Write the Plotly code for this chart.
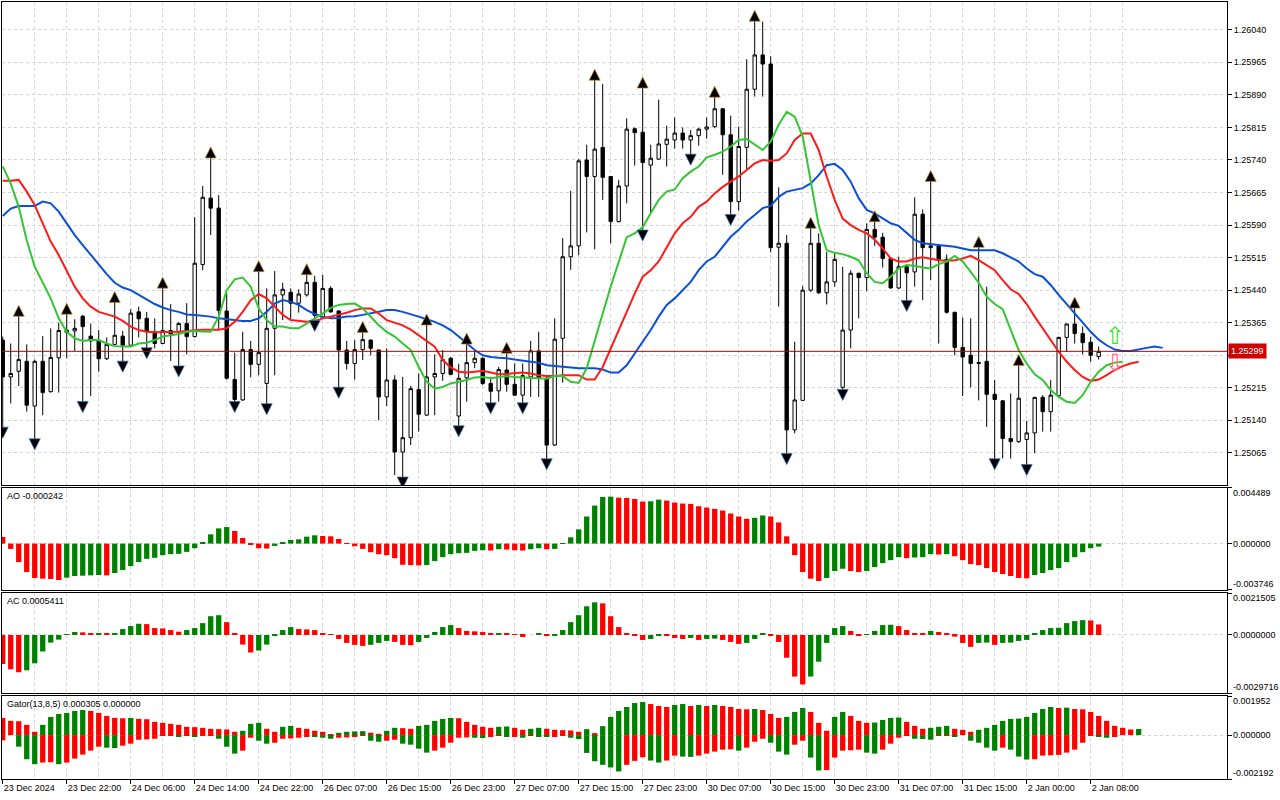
import plotly.graph_objects as go
from plotly.subplots import make_subplots

# H1 chart, one bar per hour, x = bar index (first bar 23 Dec 14:00)
tick_labels = ["23 Dec 2024", "23 Dec 22:00", "24 Dec 06:00", "24 Dec 14:00", "24 Dec 22:00",
               "26 Dec 07:00", "26 Dec 15:00", "26 Dec 23:00", "27 Dec 07:00", "27 Dec 15:00",
               "27 Dec 23:00", "30 Dec 07:00", "30 Dec 15:00", "30 Dec 23:00", "31 Dec 07:00",
               "31 Dec 15:00", "2 Jan 00:00", "2 Jan 08:00"]

opens = [1.25325, 1.25240, 1.25253, 1.25276, 1.25173, 1.25276, 1.25206, 1.25284, 1.25343, 1.25346,
         1.25380, 1.25334, 1.25323, 1.25282, 1.25315, 1.25334, 1.25313, 1.25390, 1.25375, 1.25344,
         1.25317, 1.25347, 1.25344, 1.25363, 1.25333, 1.25499, 1.25652, 1.25629, 1.25392, 1.25234,
         1.25187, 1.25303, 1.25269, 1.25225, 1.25352, 1.25429, 1.25435, 1.25410, 1.25429, 1.25458,
         1.25375, 1.25444, 1.25392, 1.25302, 1.25271, 1.25303, 1.25325, 1.25302, 1.25194, 1.25233,
         1.25067, 1.25100, 1.25211, 1.25152, 1.25240, 1.25248, 1.25283, 1.25150, 1.25238, 1.25273,
         1.25283, 1.25225, 1.25208, 1.25256, 1.25223, 1.25198, 1.25240, 1.25300, 1.25237, 1.25083,
         1.25329, 1.25517, 1.25542, 1.25740, 1.25702, 1.25769, 1.25702, 1.25598, 1.25680, 1.25812,
         1.25804, 1.25728, 1.25742, 1.25776, 1.25786, 1.25802, 1.25786, 1.25796, 1.25811, 1.25817,
         1.25858, 1.25798, 1.25644, 1.25769, 1.25903, 1.25982, 1.25961, 1.25539, 1.25548, 1.25118,
         1.25186, 1.25440, 1.25548, 1.25434, 1.25459, 1.25216, 1.25348, 1.25479, 1.25469, 1.25580,
         1.25562, 1.25513, 1.25445, 1.25494, 1.25482, 1.25615, 1.25538, 1.25542, 1.25511, 1.25389,
         1.25308, 1.25290, 1.25273, 1.25276, 1.25200, 1.25185, 1.25098, 1.25091, 1.25096, 1.25111,
         1.25193, 1.25160, 1.25197, 1.25331, 1.25362, 1.25340, 1.25320, 1.25287]
highs = [1.25333, 1.25317, 1.25383, 1.25315, 1.25280, 1.25334, 1.25352, 1.25365, 1.25388, 1.25373,
         1.25383, 1.25363, 1.25348, 1.25331, 1.25415, 1.25346, 1.25396, 1.25402, 1.25390, 1.25375,
         1.25448, 1.25408, 1.25367, 1.25410, 1.25608, 1.25680, 1.25748, 1.25659, 1.25433, 1.25296,
         1.25344, 1.25323, 1.25486, 1.25444, 1.25484, 1.25457, 1.25444, 1.25442, 1.25479, 1.25473,
         1.25475, 1.25449, 1.25394, 1.25323, 1.25325, 1.25346, 1.25326, 1.25303, 1.25306, 1.25244,
         1.25240, 1.25219, 1.25248, 1.25363, 1.25292, 1.25302, 1.25286, 1.25270, 1.25319, 1.25302,
         1.25285, 1.25240, 1.25263, 1.25298, 1.25271, 1.25271, 1.25323, 1.25344, 1.25241, 1.25375,
         1.25560, 1.25669, 1.25742, 1.25775, 1.25927, 1.25915, 1.25703, 1.25694, 1.25836, 1.25815,
         1.25909, 1.25775, 1.25879, 1.25819, 1.25838, 1.25815, 1.25809, 1.25814, 1.25838, 1.25888,
         1.25859, 1.25842, 1.25817, 1.25972, 1.26063, 1.26059, 1.25979, 1.25677, 1.25567, 1.25321,
         1.25449, 1.25586, 1.25571, 1.25528, 1.25528, 1.25494, 1.25486, 1.25480, 1.25594, 1.25601,
         1.25572, 1.25515, 1.25517, 1.25496, 1.25654, 1.25626, 1.25694, 1.25544, 1.25522, 1.25390,
         1.25377, 1.25375, 1.25542, 1.25448, 1.25233, 1.25187, 1.25202, 1.25270, 1.25139, 1.25194,
         1.25198, 1.25233, 1.25333, 1.25363, 1.25402, 1.25356, 1.25333, 1.25310]
lows = [1.25121, 1.25179, 1.25219, 1.25160, 1.25094, 1.25152, 1.25204, 1.25204, 1.25283, 1.25300,
        1.25180, 1.25196, 1.25252, 1.25279, 1.25313, 1.25273, 1.25311, 1.25331, 1.25304, 1.25306,
        1.25316, 1.25277, 1.25262, 1.25292, 1.25331, 1.25486, 1.25567, 1.25348, 1.25234, 1.25180,
        1.25185, 1.25239, 1.25244, 1.25175, 1.25244, 1.25371, 1.25373, 1.25388, 1.25425, 1.25367,
        1.25373, 1.25388, 1.25213, 1.25257, 1.25234, 1.25279, 1.25290, 1.25140, 1.25173, 1.25014,
        1.25006, 1.25083, 1.25114, 1.25150, 1.25152, 1.25231, 1.25244, 1.25124, 1.25183, 1.25260,
        1.25221, 1.25177, 1.25183, 1.25206, 1.25196, 1.25177, 1.25194, 1.25194, 1.25048, 1.25081,
        1.25227, 1.25487, 1.25521, 1.25573, 1.25534, 1.25648, 1.25548, 1.25596, 1.25640, 1.25727,
        1.25575, 1.25617, 1.25740, 1.25725, 1.25766, 1.25766, 1.25750, 1.25773, 1.25789, 1.25813,
        1.25706, 1.25611, 1.25623, 1.25717, 1.25886, 1.25886, 1.25527, 1.25402, 1.25060, 1.25110,
        1.25185, 1.25436, 1.25431, 1.25407, 1.25448, 1.25208, 1.25306, 1.25375, 1.25438, 1.25542,
        1.25492, 1.25444, 1.25442, 1.25413, 1.25448, 1.25417, 1.25463, 1.25317, 1.25386, 1.25290,
        1.25196, 1.25216, 1.25186, 1.25125, 1.25048, 1.25052, 1.25052, 1.25088, 1.25035, 1.25064,
        1.25114, 1.25114, 1.25194, 1.25298, 1.25317, 1.25292, 1.25275, 1.25280]
closes = [1.25240, 1.25248, 1.25280, 1.25175, 1.25276, 1.25204, 1.25285, 1.25347, 1.25348, 1.25352,
          1.25356, 1.25323, 1.25282, 1.25315, 1.25336, 1.25313, 1.25387, 1.25374, 1.25344, 1.25317,
          1.25347, 1.25339, 1.25363, 1.25333, 1.25502, 1.25654, 1.25629, 1.25393, 1.25237, 1.25188,
          1.25303, 1.25269, 1.25296, 1.25352, 1.25429, 1.25442, 1.25410, 1.25431, 1.25458, 1.25382,
          1.25444, 1.25390, 1.25302, 1.25271, 1.25303, 1.25326, 1.25306, 1.25194, 1.25233, 1.25067,
          1.25100, 1.25213, 1.25154, 1.25240, 1.25248, 1.25280, 1.25246, 1.25237, 1.25273, 1.25283,
          1.25225, 1.25207, 1.25257, 1.25223, 1.25198, 1.25243, 1.25300, 1.25237, 1.25083, 1.25327,
          1.25517, 1.25542, 1.25738, 1.25702, 1.25765, 1.25700, 1.25598, 1.25680, 1.25811, 1.25803,
          1.25734, 1.25744, 1.25777, 1.25788, 1.25802, 1.25786, 1.25796, 1.25811, 1.25816, 1.25858,
          1.25798, 1.25644, 1.25771, 1.25903, 1.25982, 1.25961, 1.25538, 1.25548, 1.25118, 1.25187,
          1.25440, 1.25548, 1.25434, 1.25459, 1.25511, 1.25348, 1.25479, 1.25469, 1.25580, 1.25562,
          1.25513, 1.25445, 1.25494, 1.25480, 1.25615, 1.25538, 1.25542, 1.25511, 1.25389, 1.25308,
          1.25286, 1.25271, 1.25271, 1.25200, 1.25188, 1.25098, 1.25091, 1.25191, 1.25111, 1.25193,
          1.25160, 1.25198, 1.25331, 1.25362, 1.25340, 1.25319, 1.25290, 1.25299]

# Alligator lines (already shifted forward, so they run past the last bar)
jaw = [1.25611, 1.25628, 1.25634, 1.25634, 1.25634, 1.25644, 1.25640, 1.25621, 1.25594, 1.25567,
       1.25544, 1.25521, 1.25498, 1.25477, 1.25457, 1.25446, 1.25440, 1.25429, 1.25417, 1.25408,
       1.25400, 1.25394, 1.25390, 1.25384, 1.25383, 1.25381, 1.25379, 1.25375, 1.25373, 1.25371,
       1.25369, 1.25369, 1.25375, 1.25390, 1.25409, 1.25417, 1.25413, 1.25406, 1.25394, 1.25385,
       1.25379, 1.25375, 1.25376, 1.25379, 1.25380, 1.25383, 1.25386, 1.25390, 1.25394, 1.25394,
       1.25390, 1.25385, 1.25379, 1.25373, 1.25367, 1.25359, 1.25348, 1.25333, 1.25317, 1.25302,
       1.25290, 1.25286, 1.25284, 1.25283, 1.25280, 1.25277, 1.25275, 1.25273, 1.25267, 1.25265,
       1.25263, 1.25261, 1.25260, 1.25260, 1.25260, 1.25257, 1.25250, 1.25250, 1.25267, 1.25294,
       1.25321, 1.25348, 1.25379, 1.25406, 1.25421, 1.25440, 1.25459, 1.25486, 1.25506, 1.25517,
       1.25540, 1.25563, 1.25579, 1.25598, 1.25613, 1.25629, 1.25634, 1.25655, 1.25667, 1.25671,
       1.25675, 1.25686, 1.25705, 1.25728, 1.25731, 1.25717, 1.25690, 1.25652, 1.25625, 1.25617,
       1.25605, 1.25594, 1.25588, 1.25571, 1.25556, 1.25548, 1.25546, 1.25544, 1.25542, 1.25540,
       1.25536, 1.25532, 1.25532, 1.25532, 1.25532, 1.25525, 1.25516, 1.25506, 1.25490, 1.25477,
       1.25471, 1.25452, 1.25429, 1.25408, 1.25385, 1.25365, 1.25344, 1.25326, 1.25313, 1.25303,
       1.25300, 1.25300, 1.25304, 1.25307, 1.25310, 1.25307]
teeth = [1.25692, 1.25692, 1.25694, 1.25667, 1.25636, 1.25594, 1.25552, 1.25521, 1.25486, 1.25448,
         1.25421, 1.25402, 1.25390, 1.25385, 1.25379, 1.25369, 1.25356, 1.25348, 1.25344, 1.25343,
         1.25343, 1.25344, 1.25344, 1.25346, 1.25348, 1.25349, 1.25349, 1.25349, 1.25352, 1.25367,
         1.25390, 1.25417, 1.25431, 1.25421, 1.25402, 1.25383, 1.25371, 1.25369, 1.25367, 1.25369,
         1.25375, 1.25379, 1.25383, 1.25388, 1.25394, 1.25398, 1.25398, 1.25386, 1.25371, 1.25365,
         1.25359, 1.25349, 1.25336, 1.25325, 1.25310, 1.25279, 1.25262, 1.25252, 1.25250, 1.25252,
         1.25254, 1.25250, 1.25246, 1.25247, 1.25248, 1.25250, 1.25248, 1.25244, 1.25242, 1.25242,
         1.25244, 1.25244, 1.25244, 1.25234, 1.25234, 1.25263, 1.25306, 1.25348, 1.25390, 1.25432,
         1.25471, 1.25486, 1.25506, 1.25540, 1.25571, 1.25594, 1.25609, 1.25632, 1.25644, 1.25663,
         1.25678, 1.25690, 1.25702, 1.25717, 1.25732, 1.25740, 1.25738, 1.25740, 1.25755, 1.25786,
         1.25801, 1.25801, 1.25763, 1.25702, 1.25648, 1.25605, 1.25590, 1.25579, 1.25571, 1.25556,
         1.25536, 1.25513, 1.25506, 1.25506, 1.25513, 1.25516, 1.25513, 1.25509, 1.25508, 1.25509,
         1.25513, 1.25519, 1.25509, 1.25498, 1.25486, 1.25463, 1.25442, 1.25431, 1.25408, 1.25379,
         1.25352, 1.25323, 1.25298, 1.25275, 1.25256, 1.25240, 1.25231, 1.25234, 1.25244, 1.25256,
         1.25265, 1.25271, 1.25275]
lips = [1.25725, 1.25686, 1.25632, 1.25555, 1.25494, 1.25459, 1.25421, 1.25375, 1.25344, 1.25329,
        1.25323, 1.25325, 1.25325, 1.25317, 1.25311, 1.25310, 1.25310, 1.25317, 1.25319, 1.25325,
        1.25333, 1.25336, 1.25339, 1.25344, 1.25346, 1.25345, 1.25344, 1.25379, 1.25440, 1.25465,
        1.25469, 1.25448, 1.25398, 1.25371, 1.25356, 1.25356, 1.25352, 1.25352, 1.25363, 1.25375,
        1.25386, 1.25399, 1.25406, 1.25408, 1.25409, 1.25398, 1.25379, 1.25359, 1.25344, 1.25333,
        1.25317, 1.25302, 1.25263, 1.25229, 1.25213, 1.25217, 1.25225, 1.25229, 1.25233, 1.25239,
        1.25240, 1.25237, 1.25240, 1.25242, 1.25240, 1.25239, 1.25237, 1.25237, 1.25236, 1.25242,
        1.25242, 1.25229, 1.25226, 1.25260, 1.25325, 1.25386, 1.25448, 1.25506, 1.25562, 1.25571,
        1.25585, 1.25617, 1.25648, 1.25667, 1.25672, 1.25698, 1.25713, 1.25725, 1.25746, 1.25752,
        1.25759, 1.25771, 1.25786, 1.25788, 1.25775, 1.25763, 1.25782, 1.25821, 1.25851, 1.25840,
        1.25794, 1.25694, 1.25590, 1.25532, 1.25526, 1.25523, 1.25517, 1.25509, 1.25479, 1.25459,
        1.25456, 1.25471, 1.25490, 1.25498, 1.25496, 1.25492, 1.25490, 1.25500, 1.25506, 1.25519,
        1.25506, 1.25482, 1.25457, 1.25425, 1.25408, 1.25396, 1.25348, 1.25302, 1.25271, 1.25246,
        1.25233, 1.25210, 1.25194, 1.25183, 1.25180, 1.25198, 1.25229, 1.25252, 1.25267, 1.25273,
        1.25275]

# bars carrying a fractal
up_fractals = [2, 8, 14, 20, 26, 32, 38, 45, 53, 58, 63, 74, 80, 89, 94, 101, 109, 116, 122, 127, 134]
down_fractals = [0, 4, 10, 15, 18, 22, 29, 33, 39, 42, 50, 57, 61, 65, 68, 80, 86, 91, 98, 105,
                 113, 124, 128]

# oscillators, in units of 1e-6
ao = [534, -427, -1495, -2296, -2777, -2830, -2857, -2937, -2750, -2617,
      -2590, -2563, -2537, -2563, -2376, -2136, -1816, -1495, -1228, -1148,
      -935, -854, -828, -668, -374, 80, 748, 1228, 1335, 1015,
      454, -80, -374, -401, -187, 53, 294, 347, 561, 668,
      614, 587, 374, -27, -214, -427, -694, -854, -935, -1175,
      -1709, -1736, -1762, -1736, -1415, -1095, -854, -774, -748, -587,
      -534, -561, -454, -481, -534, -561, -454, -374, -454, -427,
      -27, 507, 1148, 2189, 3071, 3765, 3791, 3711, 3685, 3605,
      3391, 3418, 3551, 3471, 3311, 3231, 3204, 3017, 2910, 2804,
      2670, 2430, 2189, 2003, 2083, 2270, 2189, 1709, 587, -935,
      -2296, -2830, -3017, -2777, -2216, -2029, -2216, -2296, -2216, -1896,
      -1575, -1335, -1095, -1175, -1121, -1095, -854, -881, -854, -1015,
      -1335, -1655, -1736, -1976, -2296, -2456, -2617, -2777, -2804, -2537,
      -2376, -2136, -1976, -1495, -1095, -694, -374, -242]
ac = [-1487, -1758, -1910, -1808, -1453, -845, -389, -237, 34, 152,
      135, 85, 101, 51, 101, 304, 456, 575, 558, 355,
      338, 254, 169, 254, 355, 608, 963, 1014, 659, 101,
      -490, -896, -794, -490, -34, 254, 406, 304, 287, 254,
      101, 17, -203, -406, -507, -558, -507, -406, -304, -355,
      -507, -524, -355, -152, 152, 406, 507, 355, 203, 186,
      152, 85, 101, 51, 17, -101, 0, 101, -34, -17,
      254, 659, 1014, 1470, 1673, 1622, 963, 406, 51, -51,
      -254, -203, -34, -51, -152, -203, -152, -254, -203, -186,
      -254, -355, -456, -406, -203, 51, -34, -355, -1166, -2129,
      -2535, -2129, -1369, -406, 355, 456, 203, -34, 10, 203,
      507, 524, 456, 254, 101, 51, 203, 152, 101, -85,
      -406, -608, -406, -389, -507, -406, -389, -304, -254, 51,
      254, 355, 372, 608, 710, 761, 744, 541]
gator_up = [858, 710, 693, 512, 165, 512, 908, 1056, 1106, 1205,
            1254, 1205, 1106, 957, 858, 842, 858, 809, 792, 660,
            611, 561, 512, 413, 396, 363, 314, 297, 281, 165,
            215, 561, 611, 314, 165, 413, 462, 363, 314, 215,
            165, 33, 116, 165, 182, 198, 116, 66, 215, 363,
            347, 314, 462, 512, 710, 809, 858, 842, 660, 512,
            413, 363, 413, 429, 363, 264, 314, 363, 314, 264,
            248, 231, 165, 297, 99, 446, 908, 1205, 1403, 1601,
            1650, 1551, 1452, 1403, 1502, 1551, 1452, 1502, 1452, 1502,
            1452, 1403, 1304, 1287, 1304, 1254, 1056, 858, 908, 1155,
            1353, 1155, 611, 215, 908, 1155, 957, 710, 611, 627,
            759, 858, 875, 660, 462, 314, 363, 413, 462, 314,
            264, 165, 264, 363, 512, 710, 809, 825, 908, 1106,
            1304, 1403, 1353, 1370, 1304, 1287, 1155, 957, 710, 462,
            363, 280, 305]
gator_down = [-264, 0, -578, -1205, -1452, -1370, -1353, -1452, -1370, -1172,
              -974, -776, -578, -627, -644, -528, -429, -231, -215, -182,
              -33, -8, -50, -33, -50, -33, -17, -182, -578, -924,
              -776, -132, -281, -429, -380, -182, -165, -132, -50, -83,
              -132, -182, -132, -116, -99, -33, -281, -330, -281, -231,
              -429, -479, -677, -875, -776, -627, -380, -132, -116, -132,
              -149, -66, -33, -83, -50, -132, -33, -50, -83, -66,
              -33, -132, -198, -891, -1304, -1485, -1617, -1815, -1485, -1287,
              -1106, -1271, -1370, -1271, -1023, -1073, -1089, -1023, -924, -825,
              -726, -710, -776, -627, -330, -182, -380, -825, -974, -479,
              -281, -1122, -1766, -1749, -1122, -776, -759, -726, -875, -924,
              -726, -429, -132, -17, -182, -198, -231, -33, -17, -83,
              0, -281, -380, -627, -776, -627, -726, -1073, -1221, -1205,
              -1023, -1007, -990, -875, -726, -380, -33, -83, -132, -66,
              0]

price_ticks = [1.25065, 1.25140, 1.25215, 1.25290, 1.25365, 1.25440, 1.25515,
               1.25590, 1.25665, 1.25740, 1.25815, 1.25890, 1.25965, 1.26040]
last_price = 1.25299

GREEN = "#008000"
RED = "#ff0000"
GRID = "#d4d4d4"
FONT = "Liberation Sans"
FSIZE = 9


def trend_colors(values):
    # MT5 style: green when the bar grew against the previous one
    cols = []
    prev = None
    for v in values:
        cols.append(GREEN if prev is not None and v > prev else RED)
        prev = v
    return cols


bars = list(range(len(closes)))
tick_bars = [i * 8 for i in range(len(tick_labels))]
minor_bars = [b + 4 for b in tick_bars]
# the 1.25290 label sits under the red bid label, so leave it blank
price_text = ["" if abs(p - last_price) < 0.0002 else "%.5f" % p for p in price_ticks]

fig = make_subplots(rows=4, cols=1, shared_xaxes=True, vertical_spacing=0.0)

fig.add_trace(go.Candlestick(
    x=bars, open=opens, high=highs, low=lows, close=closes,
    increasing=dict(line=dict(color="black", width=1), fillcolor="white"),
    decreasing=dict(line=dict(color="black", width=1), fillcolor="black"),
    whiskerwidth=0, hoverinfo="skip", showlegend=False), row=1, col=1)

for vals, col in [(jaw, "#0a4fd8"), (teeth, "#ff1a1a"), (lips, "#33c633")]:
    fig.add_trace(go.Scatter(x=list(range(len(vals))), y=vals, mode="lines",
                             line=dict(color=col, width=2), hoverinfo="skip"), row=1, col=1)

off = 0.00022
fig.add_trace(go.Scatter(x=up_fractals, y=[highs[i] + off for i in up_fractals], mode="markers",
                         marker=dict(symbol="arrow-up", size=11, color="black",
                                     line=dict(color="#c08a30", width=0.7)),
                         hoverinfo="skip"), row=1, col=1)
fig.add_trace(go.Scatter(x=down_fractals, y=[lows[i] - off for i in down_fractals], mode="markers",
                         marker=dict(symbol="arrow-down", size=11, color="black",
                                     line=dict(color="#3070c0", width=0.7)),
                         hoverinfo="skip"), row=1, col=1)

fig.add_trace(go.Bar(x=bars, y=[v / 1e6 for v in ao], marker_color=trend_colors(ao),
                     marker_line_width=0, width=0.66, hoverinfo="skip"), row=2, col=1)
fig.add_trace(go.Bar(x=bars, y=[v / 1e6 for v in ac], marker_color=trend_colors(ac),
                     marker_line_width=0, width=0.66, hoverinfo="skip"), row=3, col=1)
fig.add_trace(go.Bar(x=list(range(len(gator_up))), y=[v / 1e6 for v in gator_up],
                     marker_color=trend_colors(gator_up), marker_line_width=0, width=0.66,
                     hoverinfo="skip"), row=4, col=1)
fig.add_trace(go.Bar(x=list(range(len(gator_down))), y=[v / 1e6 for v in gator_down],
                     marker_color=trend_colors([abs(v) for v in gator_down]), marker_line_width=0,
                     width=0.66, hoverinfo="skip"), row=4, col=1)

# bid line
fig.add_shape(type="line", xref="paper", x0=0, x1=1, yref="y", y0=last_price, y1=last_price,
              line=dict(color="#b40000", width=1))

fig.update_layout(
    width=1280, height=800, margin=dict(l=2, r=53, t=2, b=21),
    paper_bgcolor="white", plot_bgcolor="white", showlegend=False,
    barmode="overlay", boxgap=0.4,
    font=dict(family=FONT, size=FSIZE, color="black"),
    yaxis=dict(domain=[0.37838, 1.0]),
    yaxis2=dict(domain=[0.24324, 0.37452]),
    yaxis3=dict(domain=[0.11068, 0.23938]),
    yaxis4=dict(domain=[0.0, 0.10682]),
)

fig.update_xaxes(range=[-0.09, 153.04], tickvals=tick_bars, ticktext=tick_labels,
                 showgrid=True, gridcolor=GRID, griddash="3px,3px", gridwidth=1,
                 minor=dict(tickvals=minor_bars, showgrid=True, gridcolor=GRID, griddash="3px,3px"),
                 showline=True, mirror=True, linecolor="black", linewidth=1,
                 zeroline=False, showticklabels=False, ticks="", automargin=False,
                 tickangle=0, rangeslider_visible=False)
fig.update_xaxes(showticklabels=True, ticks="outside", ticklen=4, tickcolor="black",
                 ticklabelposition="outside right", tickfont=dict(size=FSIZE), row=4, col=1)

fig.update_yaxes(side="right", showline=True, mirror=True, linecolor="black", linewidth=1,
                 zeroline=False, showgrid=True, gridcolor=GRID, griddash="3px,3px",
                 ticks="outside", ticklen=4, tickcolor="black", automargin=False)
fig.update_yaxes(range=[1.24991, 1.26104], tickvals=price_ticks, ticktext=price_text,
                 row=1, col=1)

panels = [
    (2, [-0.003746, 0.004489], ["0.004489", "0.000000", "-0.003746"], "AO -0.000242"),
    (3, [-0.0029716, 0.0021505], ["0.0021505", "0.0000000", "-0.0029716"], "AC 0.0005411"),
    (4, [-0.002192, 0.001952], ["0.001952", "0.000000", "-0.002192"], "Gator(13,8,5) 0.000305 0.000000"),
]
for row, rng, labels, title in panels:
    fig.update_yaxes(range=rng, tickvals=[rng[0], 0, rng[1]], showticklabels=False, row=row, col=1)
    yref = "y%d" % row
    fig.add_annotation(xref="paper", x=1, xanchor="left", xshift=4, yref=yref, y=rng[1],
                       yanchor="top", yshift=2, text=labels[0], showarrow=False)
    fig.add_annotation(xref="paper", x=1, xanchor="left", xshift=4, yref=yref, y=0,
                       yanchor="middle", text=labels[1], showarrow=False)
    fig.add_annotation(xref="paper", x=1, xanchor="left", xshift=4, yref=yref, y=rng[0],
                       yanchor="bottom", yshift=-1, text=labels[2], showarrow=False)
    fig.add_annotation(xref="paper", x=0, xanchor="left", xshift=3, yref=yref + " domain", y=1,
                       yanchor="top", yshift=-1, text=title, showarrow=False)

fig.add_annotation(xref="paper", x=1, xanchor="left", xshift=1, yref="y", y=last_price,
                   text="1.25299", showarrow=False, bgcolor="#d00000", borderpad=2,
                   font=dict(color="white", size=FSIZE, family=FONT))

# signal arrows at the right end of the alligator
fig.add_annotation(x=139, y=1.25334, xref="x", yref="y", text="\u21e7", showarrow=False,
                   font=dict(family="DejaVu Sans", size=24, color="#44dd33"))
fig.add_annotation(x=139, y=1.25272, xref="x", yref="y", text="\u21e9", showarrow=False,
                   font=dict(family="DejaVu Sans", size=24, color="#ff6f8f"))

# the default page has an 8px body margin; drop it so the chart sits at 0,0
fig.write_html("out.html", config={"displayModeBar": False},
               post_script="document.body.style.margin='0px';")
